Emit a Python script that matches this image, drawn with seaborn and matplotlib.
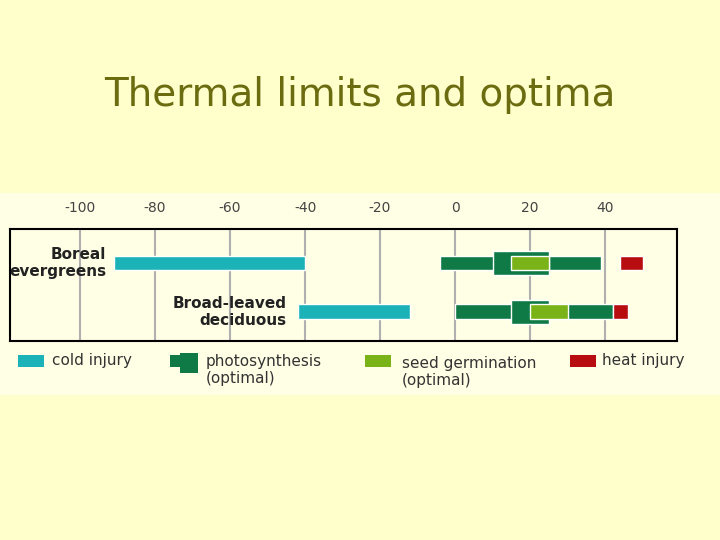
import matplotlib
matplotlib.use("Agg")
import matplotlib.pyplot as plt
import matplotlib.patches as mpatches
import seaborn as sns
import pandas as pd

groups = ["Boreal\nevergreens", "Broad-leaved\ndeciduous"]
cold_lo = [-91, -42]; cold_hi = [-40, -12]
photo_lo = [-4, 0]; photo_hi = [39, 42]
opt_lo = [10, 15]; opt_hi = [25, 25]
seed_lo = [15, 20]; seed_hi = [25, 30]
heat_lo = [44, 42]; heat_hi = [50, 46]
ticks = [-100, -80, -60, -40, -20, 0, 20, 40, 60]
tick_labels = ["-100", "-80", "-60", "-40", "-20", "0", "20", "40", "60°C"]

C_COLD = "#1bb3b8"; C_PHOTO = "#0f7a45"; C_SEED = "#7ab317"; C_HEAT = "#b80d10"
BG = "#ffffcc"; PANEL = "#ffffe6"

sns.set_theme(style="white")
fig = plt.figure(figsize=(7.2, 5.4), dpi=100, facecolor=BG)
fig.patches.append(mpatches.Rectangle((0, 1-395/540), 1, (395-193)/540, transform=fig.transFigure,
                                      facecolor=PANEL, edgecolor="none", zorder=-5))
fig.text(0.5, 1-95/540, "Thermal limits and optima", ha="center", va="center",
         fontsize=28, color="#6b6b10", family="DejaVu Sans")

ax = fig.add_axes([10/720, 1-341/540, 667/720, 112/540])
ax.set_zorder(5)
ax.set_facecolor(PANEL)
ax.set_xlim(-118.7, 59.2)
ax.set_ylim(1.6, -0.7)
for t in ticks[:-1]:
    ax.axvline(t, color="#b0b0b0", lw=1.5, zorder=1)
ys = [0, 1]
def bars(lo, hi, h, c, z):
    ax.barh(ys, [b - a for a, b in zip(lo, hi)], left=lo, height=h, color=c, zorder=z)
bars(cold_lo, cold_hi, 0.3, C_COLD, 2)
bars(photo_lo, photo_hi, 0.3, C_PHOTO, 2)
bars(opt_lo, opt_hi, 0.5, C_PHOTO, 3)
bars(seed_lo, seed_hi, 0.3, C_SEED, 4)
bars(heat_lo, heat_hi, 0.3, C_HEAT, 4)
ax.text(-93, 0, groups[0], ha="right", va="center", fontsize=11, fontweight="bold", color="#222",
        multialignment="right")
ax.text(-45, 1, groups[1], ha="right", va="center", fontsize=11, fontweight="bold", color="#222",
        multialignment="right")
ax.set_yticks([])
ax.xaxis.tick_top()
ax.set_xticks(ticks)
ax.set_xticklabels(tick_labels, fontsize=10, color="#444")
ax.tick_params(axis="x", length=0, pad=10)
for s in ax.spines.values():
    s.set_color("black"); s.set_linewidth(1.5)
ax.set_xlim(-118.7, 59.2)

def leg(x, c, y=1-361/540):
    fig.patches.append(mpatches.Rectangle((x/720, y-6/540), 26/720, 12/540, transform=fig.transFigure,
                                          facecolor=c, edgecolor="none", zorder=1))
leg(18, C_COLD); leg(170, C_PHOTO); leg(365, C_SEED); leg(570, C_HEAT)
fig.patches.append(mpatches.Rectangle((180/720, 1-373/540), 18/720, 20/540, transform=fig.transFigure,
                                      facecolor=C_PHOTO, edgecolor="none", zorder=1))
kw = dict(fontsize=11, color="#333", va="center")
fig.text(52/720, 1-361/540, "cold injury", **kw)
fig.text(206/720, 1-370/540, "photosynthesis\n(optimal)", **kw)
fig.text(402/720, 1-372/540, "seed germination\n(optimal)", **kw)
fig.text(602/720, 1-361/540, "heat injury", **kw)
fig.savefig("out.png", dpi=100, facecolor=BG)
